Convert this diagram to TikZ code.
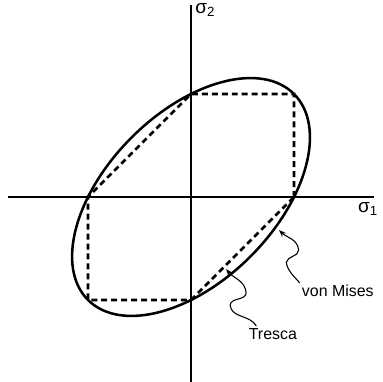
\documentclass[tikz,border=0pt]{standalone}
\usepackage{fontspec}
\setmainfont{Liberation Sans}
\usepackage{tikz}
\usetikzlibrary{arrows.meta,positioning,shapes}

\begin{document}
\begin{tikzpicture}[
  axis/.style={line width=.7pt},
  mises/.style={line width=1.4pt},
  tresca/.style={line width=1.4pt,dash pattern=on 3.3pt off 2.2pt},
  lbl/.style={font=\fontsize{8.8}{10}\selectfont,inner sep=1pt},
  sig/.style={font=\fontsize{10.5}{12}\selectfont,inner sep=0pt},
  pointer/.style={-{Stealth[length=4pt,width=3pt]},line width=.6pt}]
\useasboundingbox (-3.709,-3.592) rectangle (3.728,3.825);
\coordinate (o) at (0,0);
\coordinate (t0) at (2,0);
\coordinate (t1) at (2,2);
\coordinate (t2) at (0,2);
\coordinate (t3) at (-2,0);
\coordinate (t4) at (-2,-2);
\coordinate (t5) at (0,-2);
\draw[axis] (-3.553,0) -- (3.553,0);
\draw[axis] (0,-3.592) -- (0,3.728);
\node[sig,anchor=west] (s1) at (3.24,-0.24) {σ\textsubscript{1}};
\node[sig,anchor=west] (s2) at (0.08,3.64) {σ\textsubscript{2}};
\draw[mises,rotate=45] (o) ellipse (2.828 and 1.633);
\draw[tresca] (t0) -- (t1) -- (t2) -- (t3) -- (t4) -- (t5) -- cycle;
\node[lbl] (vm) at (2.85,-1.825) {von Mises};
\node[lbl] (tr) at (1.59,-2.654) {Tresca};
\coordinate (vmtip) at (1.709,-0.641);
\coordinate (trtip) at (0.68,-1.40);
\draw[pointer] (vm.north west) to[out=130,in=-80] (1.85,-1.27)
  to[out=80,in=-90] (2.09,-1.03) to[out=95,in=-45] (vmtip);
\draw[pointer] (tr.155) to[out=120,in=-85] (0.76,-2.10)
  to[out=85,in=-90] (1.07,-1.86) to[out=95,in=-50] (trtip);
\end{tikzpicture}
\end{document}
